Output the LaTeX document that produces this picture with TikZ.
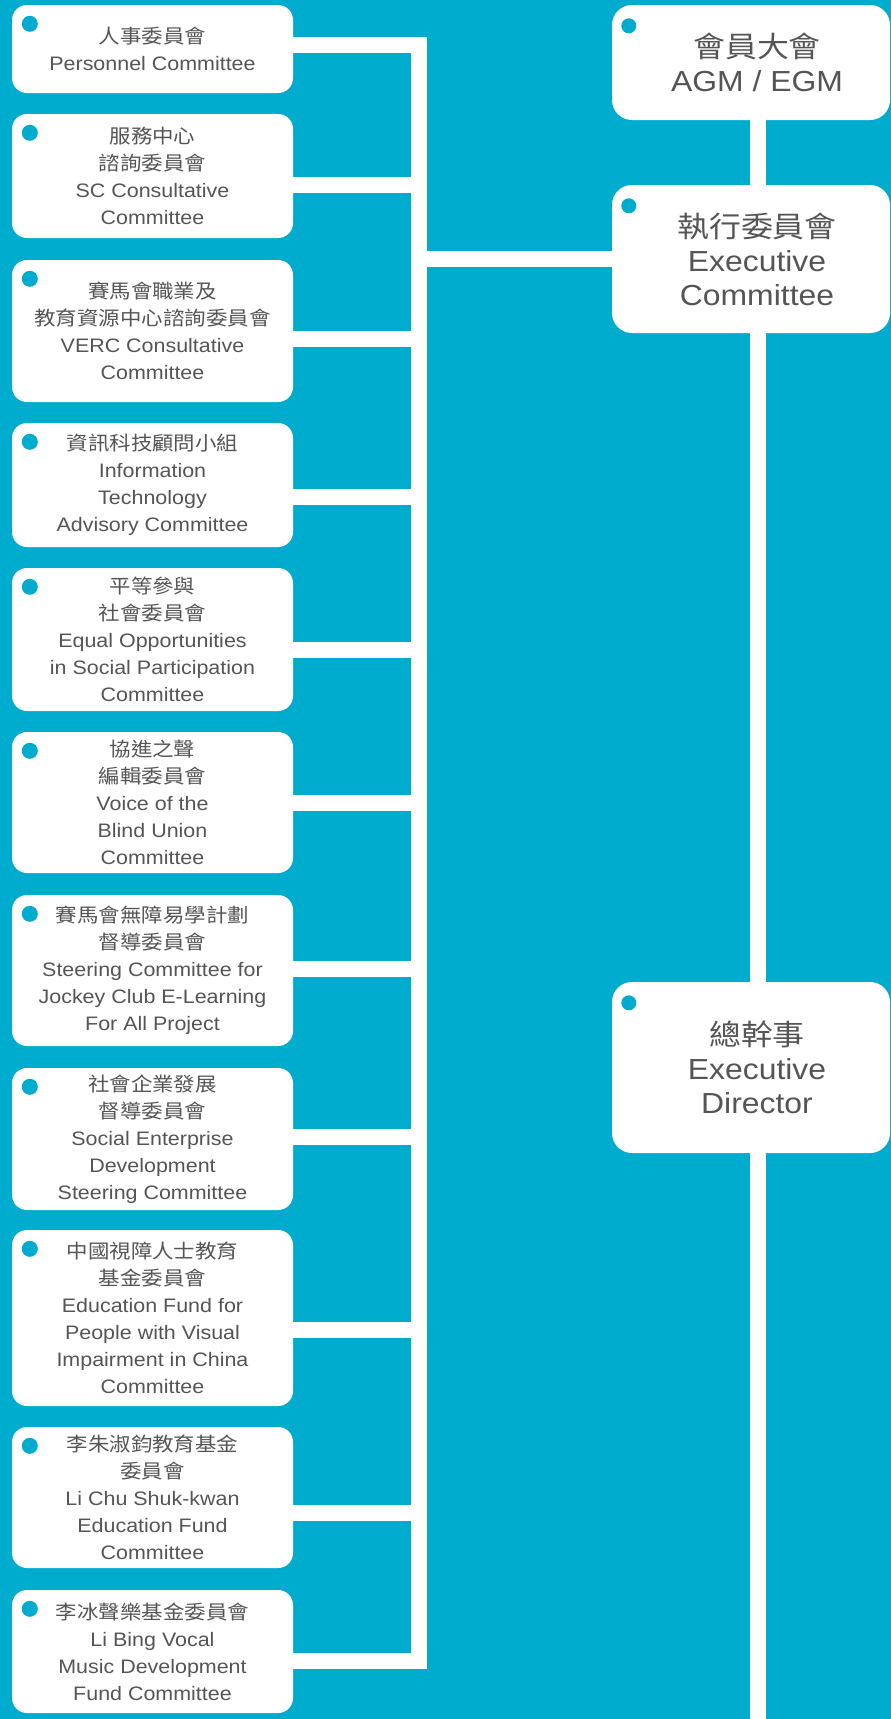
\documentclass[tikz,border=0pt]{standalone}
\usepackage{fontspec}
\setmainfont{Liberation Sans}[FakeStretch=1.1]
\newfontfamily\cjk{Noto Sans CJK TC}[FakeStretch=1.1]
\definecolor{bg}{HTML}{00ACCD}
\definecolor{txt}{HTML}{555555}
\newcommand{\rsh}{\hspace*{12pt}}
\begin{document}
\begin{tikzpicture}[x=1pt,y=-1pt,
  lbox/.style={fill=white, rounded corners=15pt, minimum width=281pt, inner sep=0pt, align=center, text=txt, font=\fontsize{19.5}{27}\selectfont},
  rbox/.style={fill=white, rounded corners=20pt, minimum width=278pt, inner sep=0pt, align=center, text=txt, font=\fontsize{29}{34}\selectfont},
  conn/.style={draw=white, line width=16pt, line join=miter}]
\fill[bg] (0,0) rectangle (891,1719);
\useasboundingbox (0,0) rectangle (891,1719);

% left boxes
\node[lbox, minimum height=88pt]  (l1)  at (152.5,49)   {{\cjk 人事委員會}\\Personnel Committee};
\node[lbox, minimum height=124pt] (l2)  at (152.5,176)  {{\cjk 服務中心}\\{\cjk 諮詢委員會}\\SC Consultative\\Committee};
\node[lbox, minimum height=142pt] (l3)  at (152.5,331)  {{\cjk 賽馬會職業及}\\{\cjk 教育資源中心諮詢委員會}\\VERC Consultative\\Committee};
\node[lbox, minimum height=124pt] (l4)  at (152.5,485)  {{\cjk 資訊科技顧問小組}\\Information\\Technology\\Advisory Committee};
\node[lbox, minimum height=143pt] (l5)  at (152.5,639.5) {{\cjk 平等參與}\\{\cjk 社會委員會}\\Equal Opportunities\\in Social Participation\\Committee};
\node[lbox, minimum height=141pt] (l6)  at (152.5,802.5) {{\cjk 協進之聲}\\{\cjk 編輯委員會}\\Voice of the\\Blind Union\\Committee};
\node[lbox, minimum height=151pt] (l7)  at (152.5,970.5) {{\cjk 賽馬會無障易學計劃}\\{\cjk 督導委員會}\\Steering Committee for\\Jockey Club E-Learning\\For All Project};
\node[lbox, minimum height=142pt] (l8)  at (152.5,1139) {{\cjk 社會企業發展}\\{\cjk 督導委員會}\\Social Enterprise\\Development\\Steering Committee};
\node[lbox, minimum height=176pt] (l9)  at (152.5,1318) {{\cjk 中國視障人士教育}\\{\cjk 基金委員會}\\Education Fund for\\People with Visual\\Impairment in China\\Committee};
\node[lbox, minimum height=141pt] (l10) at (152.5,1497.5) {{\cjk 李朱淑鈞教育基金}\\{\cjk 委員會}\\Li Chu Shuk-kwan\\Education Fund\\Committee};
\node[lbox, minimum height=123pt] (l11) at (152.5,1651.5) {{\cjk 李冰聲樂基金委員會}\\Li Bing Vocal\\Music Development\\Fund Committee};

% right boxes
\node[rbox, minimum height=115pt] (ra) at (751,62.5)  {\rsh{\cjk 會員大會}\\\rsh AGM / EGM};
\node[rbox, minimum height=148pt] (rb) at (751,259)   {\rsh{\cjk 執行委員會}\\\rsh Executive\\\rsh Committee};
\node[rbox, minimum height=171pt] (rc) at (751,1067.5) {\rsh{\cjk 總幹事}\\\rsh Executive\\\rsh Director};

% junctions
\coordinate (j1) at (419,45);
\coordinate (j2) at (419,185);
\coordinate (j3) at (419,339);
\coordinate (j4) at (419,497);
\coordinate (j5) at (419,650);
\coordinate (j6) at (419,803);
\coordinate (j7) at (419,969);
\coordinate (j8) at (419,1137);
\coordinate (j9) at (419,1330);
\coordinate (j10) at (419,1513);
\coordinate (j11) at (419,1661);
\coordinate (jx) at (419,259);
\coordinate (bot) at (758,1719);

\draw[conn] (l1.east |- j1) -- (j1) -- (j11) -- (l11.east |- j11);
\foreach \i in {2,...,10} \draw[conn] (l\i.east |- j\i) -- (j\i);
\draw[conn] (jx) -- (rb.west |- jx);
\draw[conn] (ra.south -| bot) -- (rb.north -| bot);
\draw[conn] (rb.south -| bot) -- (rc.north -| bot);
\draw[conn] (rc.south -| bot) -- (bot);

% dots
\foreach \i in {1,...,11} \fill[bg] ([shift={(18,19)}]l\i.north west) circle[radius=8pt];
\foreach \n in {ra,rb,rc} \fill[bg] ([shift={(17,21)}]\n.north west) circle[radius=7.5pt];
\end{tikzpicture}
\end{document}
